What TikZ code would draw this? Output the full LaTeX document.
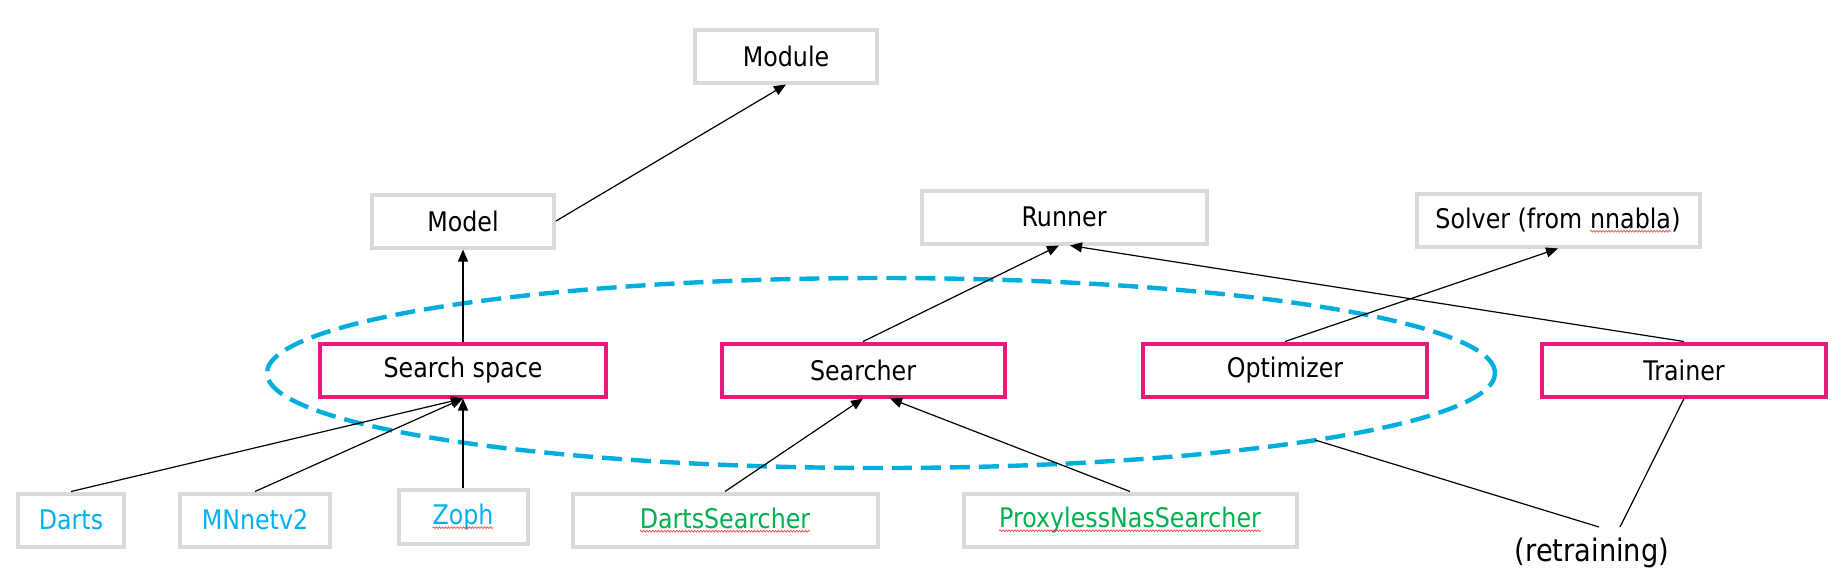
\documentclass[tikz,border=0pt]{standalone}
\usepackage{fontspec}
\setmainfont{DejaVu Sans}[FakeStretch=0.88]
\usetikzlibrary{arrows.meta,decorations.pathmorphing}
\definecolor{boxgray}{HTML}{D9D9D9}
\definecolor{magentabox}{HTML}{E8197A}
\definecolor{ellblue}{HTML}{00AEDD}
\definecolor{txtblue}{HTML}{00B0F0}
\definecolor{txtgreen}{HTML}{00B050}
\definecolor{spellred}{HTML}{FF3030}
\tikzset{
  basebox/.style={line width=2pt, fill=white, minimum height=26.5pt, inner sep=0pt,
    font=\fontsize{13.5}{16}\selectfont},
  graybox/.style={basebox, draw=boxgray},
  pinkbox/.style={basebox, draw=magentabox},
  conn/.style={line width=0.6pt, -{Triangle[length=6pt,width=5pt]}},
  plainline/.style={line width=0.6pt},
  groupring/.style={draw=ellblue, line width=2.2pt, dash pattern=on 10pt off 4.5pt},
  freetext/.style={inner sep=0pt, font=\fontsize{15.5}{18}\selectfont},
  spellword/.style={draw=none, fill=none, inner sep=0pt, outer sep=0pt,
    minimum width=0pt, minimum height=0pt},
  spellline/.style={draw=spellred, line width=0.3pt, decorate,
    decoration={snake, amplitude=0.45pt, segment length=1.5pt}}
}
\newcommand\spellwave[1]{\tikz[baseline=(sw.base)]{\node[spellword] (sw) {#1};
  \draw[spellline] ([yshift=-1.6pt]sw.base west) -- ([yshift=-1.6pt]sw.base east);}}
\begin{document}
\begin{tikzpicture}[x=0.5pt,y=-0.5pt]
\useasboundingbox (0,0) rectangle (1842,585);
% grouping ellipse
\draw[groupring] (881,373) ellipse [x radius=307pt, y radius=47.5pt];
\coordinate (ep) at (1315,440);
% top level
\node[graybox, minimum width=91pt] (module) at (786,56) {Module};
\node[graybox, minimum width=91pt] (model) at (463,221) {Model};
\node[graybox, minimum width=142.5pt] (runner) at (1064,217) {Runner};
\node[graybox, minimum width=141.5pt] (solver) at (1558,220) {Solver (from \spellwave{nnabla})};
% middle row
\node[pinkbox, minimum width=143pt] (space) at (463,370) {Search space};
\node[pinkbox, minimum width=141.5pt] (searcher) at (863,370) {Searcher};
\node[pinkbox, minimum width=142pt] (optim) at (1285,370) {Optimizer};
\node[pinkbox, minimum width=142pt] (trainer) at (1684,370) {Trainer};
% bottom row
\node[graybox, minimum width=53pt, text=txtblue] (darts) at (71,520) {Darts};
\node[graybox, minimum width=75pt, text=txtblue] (mnnet) at (255,520) {MNnetv2};
\node[graybox, minimum width=64.5pt, minimum height=27pt, text=txtblue] (zoph) at (463,517) {\spellwave{Zoph}};
\node[graybox, minimum width=152.5pt, text=txtgreen] (dsearch) at (725,520) {\spellwave{DartsSearcher}};
\node[graybox, minimum width=166.5pt, text=txtgreen] (psearch) at (1130,520) {\spellwave{ProxylessNasSearcher}};
\node[freetext] (retrain) at (1592,553) {(retraining)};
\coordinate (r1) at (1599,527);
\coordinate (r2) at (1620,527);
% connectors
\draw[conn] (model.east) -- (module.south);
\draw[conn] (space.north) -- (model.south);
\draw[conn] (darts.north) -- (space.south);
\draw[conn] (mnnet.north) -- (space.south);
\draw[conn] (zoph.north) -- (space.south);
\draw[conn] (dsearch.north) -- (searcher.south);
\draw[conn] (psearch.north) -- ([xshift=13.5pt]searcher.south);
\draw[conn] (searcher.north) -- ([xshift=-2.5pt]runner.south);
\draw[conn] (trainer.north) -- ([xshift=3pt]runner.south);
\draw[conn] (optim.north) -- (solver.south);
\draw[plainline] (ep) -- (r1);
\draw[plainline] (trainer.south) -- (r2);
\end{tikzpicture}
\end{document}
